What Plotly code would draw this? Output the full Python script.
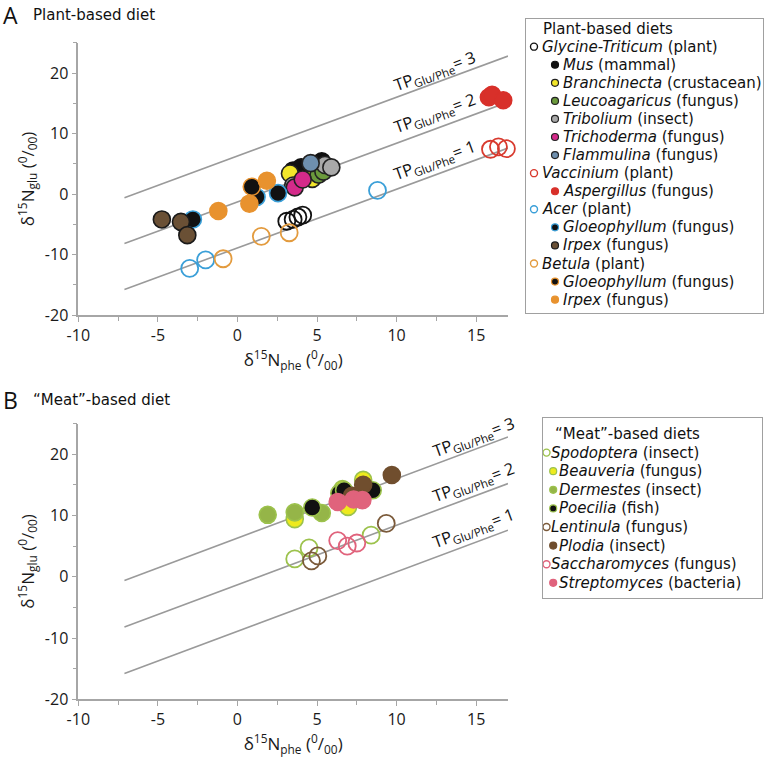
import plotly.graph_objects as go

W, H = 768, 762
FONT = "Open Sans"
LFONT = "DejaVu Sans"

# ---------------- Panel A : plant-based diet ----------------
glycine_x = [3.1, 3.5, 3.8, 4.1]
glycine_y = [-4.5, -4.2, -3.8, -3.5]
mus_x = [3.5, 4.0, 4.7, 5.3, 4.3]
mus_y = [3.9, 4.4, 5.0, 5.4, 4.1]
branch_x = [3.3, 4.7]
branch_y = [3.4, 2.5]
leuco_x = [5.1, 5.4]
leuco_y = [3.2, 3.7]
trib_x = [3.5, 5.5, 5.9]
trib_y = [1.4, 4.8, 4.4]
tricho_x = [3.6, 4.1]
tricho_y = [1.1, 2.4]
flamm_x = [4.6]
flamm_y = [5.1]
vacc_x = [15.9, 16.4, 16.9]
vacc_y = [7.4, 7.8, 7.5]
asper_x = [15.8, 16.0, 16.7]
asper_y = [16.0, 16.4, 15.5]
acer_x = [-3.0, -2.0, 8.8]
acer_y = [-12.3, -10.9, 0.6]
gloeo_acer_x = [-2.8, 1.2, 2.55]
gloeo_acer_y = [-4.2, -0.5, 0.15]
irpex_acer_x = [-4.75, -3.55, -3.15]
irpex_acer_y = [-4.2, -4.6, -6.8]
betula_x = [-0.9, 1.5, 3.25]
betula_y = [-10.7, -7.0, -6.4]
gloeo_bet_x = [0.9]
gloeo_bet_y = [1.2]
irpex_bet_x = [-1.2, 0.75, 1.85]
irpex_bet_y = [-2.8, -1.6, 2.2]

# ---------------- Panel B : "meat"-based diet ----------------
spod_x = [3.6, 4.5, 8.4]
spod_y = [2.9, 4.7, 6.8]
beauv_x = [3.6, 6.95, 7.9, 6.6]
beauv_y = [9.4, 11.4, 15.8, 14.3]
derm_x = [1.9, 3.6, 5.3]
derm_y = [10.1, 10.5, 10.4]
poec_x = [4.7, 6.4, 6.7, 8.5]
poec_y = [11.3, 13.6, 14.1, 14.1]
lent_x = [4.65, 5.05, 9.35]
lent_y = [2.6, 3.4, 8.7]
plod_x = [9.7, 7.9, 7.2]
plod_y = [16.6, 15.0, 13.2]
sacch_x = [6.3, 6.9, 7.5]
sacch_y = [5.9, 5.0, 5.5]
strep_x = [6.3, 7.3, 7.85]
strep_y = [12.2, 12.6, 12.5]

# TP reference lines (end points)
tp_levels = [1, 2, 3]
tp_x = [-7.1, 17.0]
tp_y = [[-15.8, 7.6], [-8.2, 15.2], [-0.6, 22.8]]

# tick labels
x_ticks = [-10, -5, 0, 5, 10, 15]
x_ticktext = ["-10", "-5", "0", "5", "10", "15"]
y_ticks = [-20, -10, 0, 10, 20]
y_ticktext = ["-20", "-10", "0", "10", "20"]

# series definitions: (label, level, x, y, open?, fill, edge)
series_A = [
    ("<i>Glycine-Triticum</i> (plant)", 0, glycine_x, glycine_y, True, None, "#111111"),
    ("<i>Mus</i> (mammal)", 1, mus_x, mus_y, False, "#111111", "#111111"),
    ("<i>Branchinecta</i> (crustacean)", 1, branch_x, branch_y, False, "#f2e62a", "#222222"),
    ("<i>Leucoagaricus</i> (fungus)", 1, leuco_x, leuco_y, False, "#6b9a3c", "#222222"),
    ("<i>Tribolium</i> (insect)", 1, trib_x, trib_y, False, "#a9a9a9", "#222222"),
    ("<i>Trichoderma</i> (fungus)", 1, tricho_x, tricho_y, False, "#d42a8a", "#222222"),
    ("<i>Flammulina</i> (fungus)", 1, flamm_x, flamm_y, False, "#6e8fae", "#222222"),
    ("<i>Vaccinium</i> (plant)", 0, vacc_x, vacc_y, True, None, "#d83a2e"),
    ("<i>Aspergillus</i> (fungus)", 1, asper_x, asper_y, False, "#d8302a", "#d8302a"),
    ("<i>Acer</i> (plant)", 0, acer_x, acer_y, True, None, "#3a9fd8"),
    ("<i>Gloeophyllum</i> (fungus)", 1, gloeo_acer_x, gloeo_acer_y, False, "#111111", "#3a9fd8"),
    ("<i>Irpex</i> (fungus)", 1, irpex_acer_x, irpex_acer_y, False, "#6a5035", "#1a1a1a"),
    ("<i>Betula</i> (plant)", 0, betula_x, betula_y, True, None, "#e39b3e"),
    ("<i>Gloeophyllum</i> (fungus)", 1, gloeo_bet_x, gloeo_bet_y, False, "#111111", "#e8922e"),
    ("<i>Irpex</i> (fungus)", 1, irpex_bet_x, irpex_bet_y, False, "#e8922e", "#e8922e"),
]
series_B = [
    ("<i>Spodoptera</i> (insect)", 0, spod_x, spod_y, True, None, "#9cc24c"),
    ("<i>Beauveria</i> (fungus)", 1, beauv_x, beauv_y, False, "#eeea1e", "#9cc24c"),
    ("<i>Dermestes</i> (insect)", 1, derm_x, derm_y, False, "#95b548", "#9cc24c"),
    ("<i>Poecilia</i> (fish)", 1, poec_x, poec_y, False, "#111111", "#9cc24c"),
    ("<i>Lentinula</i> (fungus)", 0, lent_x, lent_y, True, None, "#7b5a3a"),
    ("<i>Plodia</i> (insect)", 1, plod_x, plod_y, False, "#704e2e", "#704e2e"),
    ("<i>Saccharomyces</i> (fungus)", 0, sacch_x, sacch_y, True, None, "#e0637c"),
    ("<i>Streptomyces</i> (bacteria)", 1, strep_x, strep_y, False, "#e0637c", "#e0637c"),
]

fig = go.Figure()

# reference lines
for xa, ya in (("x", "y"), ("x2", "y2")):
    for ty in tp_y:
        fig.add_trace(go.Scatter(x=tp_x, y=ty, mode="lines", xaxis=xa, yaxis=ya,
                                 line=dict(color="#9a9a9a", width=1.6),
                                 showlegend=False, hoverinfo="skip"))


def add_points(series, xa, ya):
    for label, lvl, xs, ys, is_open, fill, edge in series:
        if is_open:
            mk = dict(size=17, symbol="circle-open", color=edge, line=dict(color=edge, width=1.8))
        else:
            mk = dict(size=17, symbol="circle", color=fill, line=dict(color=edge, width=1.6))
        fig.add_trace(go.Scatter(x=xs, y=ys, mode="markers", xaxis=xa, yaxis=ya,
                                 marker=mk, cliponaxis=False, showlegend=False,
                                 name=label))


add_points(series_A, "x", "y")
add_points(series_B, "x2", "y2")

# ---------------- layout geometry (pixels) ----------------
def fx(p):
    return p / W


def fy(p):
    return 1 - p / H


X_LEFT, X_RIGHT = 78.3, 508.0
A_BOT, A_TOP = 315.0, 42.8
B_BOT, B_TOP = 699.3, 423.5

axis_common = dict(showline=True, linecolor="#a6a6a6", linewidth=1.6, showgrid=False,
                   zeroline=False, ticks="outside", ticklen=5, tickwidth=1.2, automargin=False,
                   tickcolor="#a6a6a6", tickfont=dict(family=FONT, size=16, color="#1a1a1a"))

xt = "δ<sup>15</sup>N<sub>phe</sub> (<sup>0</sup>/<sub>00</sub>)"
yt = "δ<sup>15</sup>N<sub>glu</sub> (<sup>0</sup>/<sub>00</sub>)"


def xaxis_def(anchor):
    return dict(axis_common, domain=[fx(X_LEFT), fx(X_RIGHT)], range=[-10, 17], anchor=anchor,
                tickvals=x_ticks, ticktext=x_ticktext,
                minor=dict(tickvals=[-7.5, -2.5, 2.5, 7.5, 12.5], ticklen=4, ticks="outside",
                           tickcolor="#a6a6a6", tickwidth=1.2),
                title=dict(text=xt, font=dict(family=FONT, size=17, color="#1a1a1a"), standoff=3))


def yaxis_def(anchor, bot, top):
    return dict(axis_common, domain=[fy(bot), fy(top)], range=[-20, 25], anchor=anchor,
                tickvals=y_ticks, ticktext=y_ticktext,
                minor=dict(tickvals=[-15, -5, 5, 15, 25], ticklen=4, ticks="outside",
                           tickcolor="#a6a6a6", tickwidth=1.2),
                title=dict(text=yt, font=dict(family=FONT, size=17, color="#1a1a1a"), standoff=6))


# legend boxes (pixel geometry)
LA = dict(left=526, right=763, top=19, bot=313, row0=28.6, step=18.07,
          mk=[8, 29], tx=[14.0, 34.5], title_x=15.0)
LB = dict(left=542.7, right=761.7, top=418, bot=598, row0=434, step=18.6,
          mk=[3.8, 10.5], tx=[6.6, 13.8], title_x=10.0)


def legend_axes(g):
    r_top = (g["top"] - g["row0"]) / g["step"]
    r_bot = (g["bot"] - g["row0"]) / g["step"]
    xa = dict(domain=[fx(g["left"]), fx(g["right"])], range=[0, g["right"] - g["left"]],
              showline=True, mirror=True, linecolor="#a0a0a0", linewidth=1.3, automargin=False,
              showgrid=False, zeroline=False, showticklabels=False, ticks="", fixedrange=True)
    ya = dict(domain=[fy(g["bot"]), fy(g["top"])], range=[r_bot, r_top], automargin=False,
              showline=True, mirror=True, linecolor="#a0a0a0", linewidth=1.3,
              showgrid=False, zeroline=False, showticklabels=False, ticks="", fixedrange=True)
    return xa, ya


lxa3, lya3 = legend_axes(LA)
lxa4, lya4 = legend_axes(LB)
lxa3["anchor"] = "y3"
lya3["anchor"] = "x3"
lxa4["anchor"] = "y4"
lya4["anchor"] = "x4"

annotations = []
LEG_FONT = dict(family=LFONT, size=15, color="#111111")


def add_legend(series, g, xa, ya, title):
    annotations.append(dict(text=title, x=g["title_x"], y=0, xref=xa, yref=ya,
                            xanchor="left", yanchor="middle", showarrow=False, font=LEG_FONT))
    for i, (label, lvl, xs, ys, is_open, fill, edge) in enumerate(series):
        row = i + 1
        if is_open:
            mk = dict(size=7, symbol="circle-open", color=edge, line=dict(color=edge, width=1.4))
        else:
            mk = dict(size=7, symbol="circle", color=fill, line=dict(color=edge, width=1.2))
        fig.add_trace(go.Scatter(x=[g["mk"][lvl]], y=[row], mode="markers", xaxis=xa, yaxis=ya,
                                 marker=mk, cliponaxis=False, showlegend=False, hoverinfo="skip"))
        annotations.append(dict(text=label, x=g["tx"][lvl], y=row, xref=xa, yref=ya,
                                xanchor="left", yanchor="middle", showarrow=False, font=LEG_FONT))


add_legend(series_A, LA, "x3", "y3", "Plant-based diets")
add_legend(series_B, LB, "x4", "y4", "“Meat”-based diets")

# TP labels
TP_FONT = dict(family=FONT, size=16.5, color="#111111")
tp_label_pos_A = [(12.4, 5.6), (12.4, 13.4), (12.4, 20.4)]
tp_label_pos_B = [(14.84, 7.9), (14.84, 15.4), (14.84, 22.8)]
for lv, (ax_, ay_) in zip(tp_levels, tp_label_pos_A):
    annotations.append(dict(text=f"TP<sub>Glu/Phe</sub>= {lv}", x=ax_, y=ay_, xref="x", yref="y",
                            textangle=-20, showarrow=False, font=TP_FONT))
for lv, (ax_, ay_) in zip(tp_levels, tp_label_pos_B):
    annotations.append(dict(text=f"TP<sub>Glu/Phe</sub>= {lv}", x=ax_, y=ay_, xref="x2", yref="y2",
                            textangle=-20, showarrow=False, font=TP_FONT))

# panel headings
for letter, txt, ypx in (("A", "Plant-based diet", 15), ("B", "“Meat”-based diet", 400)):
    annotations.append(dict(text=letter, x=fx(1), y=fy(ypx), xref="paper", yref="paper",
                            xanchor="left", yanchor="middle", showarrow=False,
                            font=dict(family=FONT, size=23, color="#111111")))
    annotations.append(dict(text=txt, x=fx(31), y=fy(ypx), xref="paper", yref="paper",
                            xanchor="left", yanchor="middle", showarrow=False,
                            font=dict(family=LFONT, size=15, color="#111111")))

fig.update_layout(
    width=W, height=H, margin=dict(l=0, r=0, t=0, b=0, autoexpand=False),
    paper_bgcolor="white", plot_bgcolor="white",
    showlegend=False,
    xaxis=xaxis_def("y"), yaxis=yaxis_def("x", A_BOT, A_TOP),
    xaxis2=xaxis_def("y2"), yaxis2=yaxis_def("x2", B_BOT, B_TOP),
    xaxis3=lxa3, yaxis3=lya3, xaxis4=lxa4, yaxis4=lya4,
    annotations=annotations,
)

fig.write_html("out.html", config={"displayModeBar": False},
               post_script="document.body.style.margin='0';")
